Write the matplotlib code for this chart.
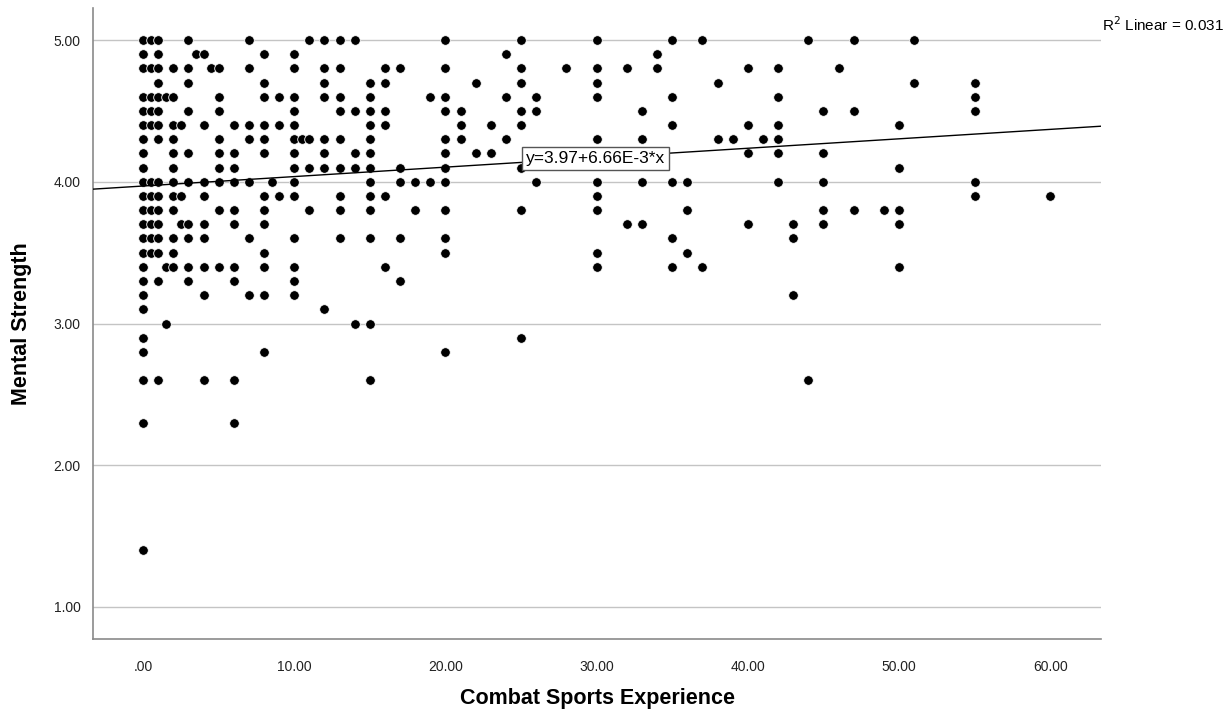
#!/bin/env python3
"""
Mental strength vs combat sports experience, SPSS style scatter with linear fit.
"""
import numpy as np
import matplotlib
matplotlib.use('Agg')
import matplotlib.pyplot as plt

# Experience values (years) read per mental strength level
strength_levels = [5.0, 4.9, 4.8, 4.7, 4.6, 4.5, 4.4, 4.3, 4.2, 4.1, 4.0, 3.9, 3.8,
                   3.7, 3.6, 3.5, 3.4, 3.3, 3.2, 3.1, 3.0, 2.9, 2.8, 2.6, 2.3, 1.4]
experience_at_level = [
    [0, 0.5, 1, 3, 7, 11, 12, 13, 14, 20, 25, 30, 35, 37, 44, 47, 51],
    [0, 1, 3.5, 4, 8, 10, 24, 34],
    [0, 0.5, 1, 2, 3, 4.5, 5, 7, 10, 12, 13, 16, 17, 20, 25, 28, 30, 32, 34, 40, 42, 46],
    [1, 3, 8, 12, 15, 16, 22, 25, 30, 38, 51, 55],
    [0, 0.5, 1, 1.5, 2, 5, 8, 9, 10, 12, 13, 15, 19, 20, 24, 26, 30, 35, 42, 55],
    [0, 0.5, 1, 3, 5, 10, 13, 14, 15, 16, 20, 21, 25, 26, 33, 45, 47, 55],
    [0, 0.5, 1, 2, 2.5, 4, 6, 7, 8, 9, 10, 15, 16, 21, 23, 25, 35, 40, 42, 50],
    [0, 1, 2, 5, 7, 8, 10, 10.5, 11, 12, 13, 15, 20, 21, 24, 30, 33, 38, 39, 41, 42],
    [0, 2, 3, 5, 6, 8, 10, 12, 14, 15, 20, 22, 23, 40, 42, 45],
    [0, 2, 5, 6, 10, 11, 12, 13, 14, 15, 17, 20, 25, 50],
    [0, 0.5, 1, 2, 3, 4, 5, 6, 7, 8.5, 10, 15, 17, 18, 19, 20, 26, 30, 33, 35, 36, 42, 45, 55],
    [0, 0.5, 1, 2, 2.5, 4, 8, 9, 10, 13, 15, 16, 30, 55, 60],
    [0, 0.5, 1, 2, 5, 6, 8, 11, 13, 15, 18, 20, 25, 30, 36, 45, 47, 49, 50],
    [0, 0.5, 1, 2.5, 3, 4, 6, 8, 32, 33, 40, 43, 45, 50],
    [0, 0.5, 1, 2, 3, 4, 7, 10, 13, 15, 17, 20, 35, 43],
    [0, 0.5, 1, 2, 8, 20, 30, 36],
    [0, 1.5, 2, 3, 4, 5, 6, 8, 10, 16, 30, 35, 37, 50],
    [0, 1, 3, 6, 10, 17],
    [0, 4, 7, 8, 10, 43],
    [0, 12],
    [1.5, 14, 15],
    [0, 25],
    [0, 8, 20],
    [0, 1, 4, 6, 15, 44],
    [0, 6],
    [0],
]

# Fit reported on the chart
intercept = 3.97
slope = 6.66e-3
r_squared = 0.031

x_ticks = [0, 10, 20, 30, 40, 50, 60]
x_tick_labels = ['.00', '10.00', '20.00', '30.00', '40.00', '50.00', '60.00']
y_ticks = [1, 2, 3, 4, 5]
y_tick_labels = ['1.00', '2.00', '3.00', '4.00', '5.00']

plt.rcParams['font.family'] = ['Liberation Sans', 'DejaVu Sans']

experience = np.concatenate([np.asarray(xs, dtype=float) for xs in experience_at_level])
strength = np.concatenate([np.full(len(xs), lvl) for lvl, xs in zip(strength_levels, experience_at_level)])

fig = plt.figure(figsize=(12.31, 7.13), dpi=100)
ax = fig.add_axes([93 / 1231, 74 / 713, 1008 / 1231, 631 / 713])

x_min, x_max = -3.31, 63.36
ax.set_xlim(x_min, x_max)
ax.set_ylim(0.774, 5.226)

for yt in y_ticks:
    ax.axhline(yt, color='#c4c4c4', lw=1.0, zorder=1)

ax.scatter(experience, strength, s=48, c='black', edgecolors='white', linewidths=0.6, zorder=3)

fit_x = np.array([x_min, x_max])
ax.plot(fit_x, intercept + slope * fit_x, color='black', lw=1.0, zorder=4)

ax.text(25.3, 4.162, f'y={intercept:.2f}+{slope * 1e3:.2f}E-3*x', fontsize=12.5, ha='left', va='center',
        zorder=5, bbox=dict(boxstyle='square,pad=0.22', fc='white', ec='#555555', lw=1.0))

fig.text(1102 / 1231, 1 - 25 / 713, f'R$^2$ Linear = {r_squared:.3f}', fontsize=11, ha='left', va='center')

for side in ['top', 'right']:
    ax.spines[side].set_visible(False)
for side in ['left', 'bottom']:
    ax.spines[side].set_color('#8a8a8a')
    ax.spines[side].set_linewidth(1.2)

ax.set_xticks(x_ticks)
ax.set_xticklabels(x_tick_labels)
ax.set_yticks(y_ticks)
ax.set_yticklabels(y_tick_labels)
ax.tick_params(axis='both', length=0, labelsize=10, labelcolor='#222222')
ax.tick_params(axis='x', pad=15)
ax.tick_params(axis='y', pad=9)

ax.set_xlabel('Combat Sports Experience', fontsize=15.5, fontweight='bold')
ax.set_ylabel('Mental Strength', fontsize=15.5, fontweight='bold')
ax.xaxis.set_label_coords(0.5, -0.077)
ax.yaxis.set_label_coords(-0.0605, 0.5)

fig.savefig('out.png', dpi=100)
